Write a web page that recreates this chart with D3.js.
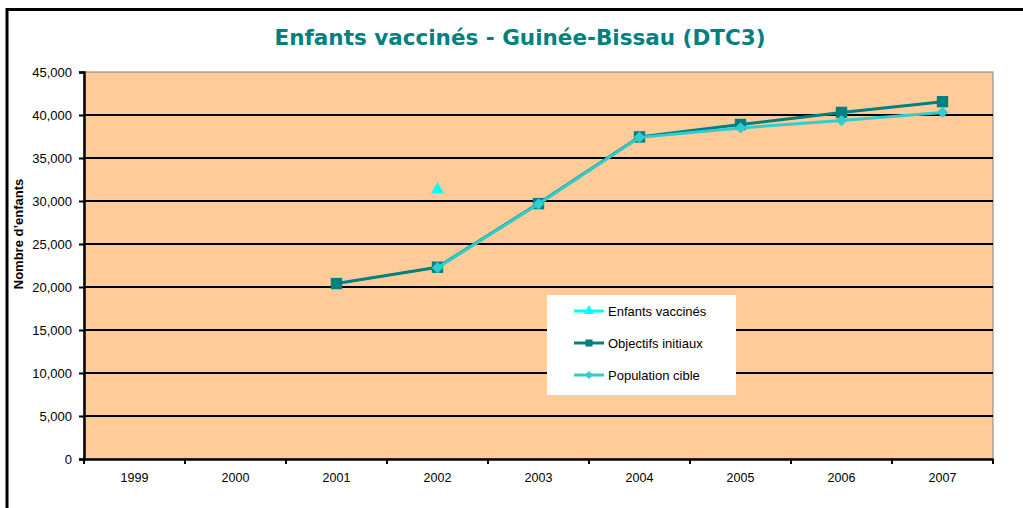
<!DOCTYPE html>
<html>
<head>
<meta charset="utf-8">
<script src="https://cdn.jsdelivr.net/npm/d3@7"></script>
<style>
  body { margin: 0; background: #fff; }
  svg { display: block; }
</style>
</head>
<body>
<div id="chart"></div>
<script>
// chart data
var years = ["1999", "2000", "2001", "2002", "2003", "2004", "2005", "2006", "2007"];
var vaccines = [null, null, null, 31300, null, null, null, null, null];
var objectifs = [null, null, 20400, 22300, 29700, 37450, 38900, 40300, 41550];
var population = [null, null, null, 22250, 29650, 37400, 38500, 39350, 40300];
var yTicks = [0, 5000, 10000, 15000, 20000, 25000, 30000, 35000, 40000, 45000];
var seriesNames = ["Enfants vaccinés", "Objectifs initiaux", "Population cible"];

var svgWidth = 1023, svgHeight = 508;
var margin = {top: 72, right: 30, bottom: 49, left: 84};
var width = svgWidth - margin.left - margin.right;
var height = svgHeight - margin.top - margin.bottom;

var svg = d3.select("#chart").append("svg")
  .attr("width", svgWidth)
  .attr("height", svgHeight);

// outer frame
svg.append("rect")
  .attr("x", 7).attr("y", 9.5)
  .attr("width", 1040).attr("height", 520)
  .attr("fill", "#fff")
  .attr("stroke", "#000")
  .attr("stroke-width", 3);

svg.append("text")
  .attr("x", 520).attr("y", 45)
  .attr("text-anchor", "middle")
  .attr("font-family", "DejaVu Sans, Verdana, sans-serif")
  .attr("font-weight", "bold")
  .attr("font-size", "21.5px")
  .attr("fill", "#008080")
  .text("Enfants vaccinés - Guinée-Bissau (DTC3)");

var chartGroup = svg.append("g")
  .attr("transform", `translate(${margin.left}, ${margin.top})`);

var x = d3.scaleBand().domain(years).range([0, width]);
var y = d3.scaleLinear().domain([0, 45000]).range([height, 0]);

chartGroup.append("rect")
  .attr("width", width).attr("height", height)
  .attr("fill", "#FFCC99")
  .attr("stroke", "#808080")
  .attr("stroke-width", 1);

// gridlines
chartGroup.selectAll(".grid")
  .data(yTicks.filter(d => d > 0 && d < 45000))
  .enter().append("line")
  .attr("x1", 0).attr("x2", width)
  .attr("y1", d => y(d)).attr("y2", d => y(d))
  .attr("stroke", "#000")
  .attr("stroke-width", 2);

// y axis
var yAxis = d3.axisLeft(y).tickValues(yTicks).tickSize(5).tickPadding(7)
  .tickFormat(d3.format(","));
var gy = chartGroup.append("g").call(yAxis);
gy.select(".domain").attr("stroke-width", 2.5);
gy.selectAll(".tick line").attr("stroke-width", 2);
gy.selectAll("text")
  .attr("font-family", "Liberation Sans, Arial, sans-serif")
  .attr("font-size", "13px")
  .attr("fill", "#000");

// x axis
var xAxis = d3.axisBottom(x).tickSize(0).tickPadding(14);
var gx = chartGroup.append("g")
  .attr("transform", `translate(0, ${height})`)
  .call(xAxis);
gx.select(".domain").attr("stroke-width", 2.5);
gx.selectAll("text")
  .attr("font-family", "Liberation Sans, Arial, sans-serif")
  .attr("font-size", "12.5px")
  .attr("fill", "#000");
// category separators
gx.selectAll(".sep")
  .data(years.concat(["end"]))
  .enter().append("line")
  .attr("x1", (d, i) => i * x.bandwidth())
  .attr("x2", (d, i) => i * x.bandwidth())
  .attr("y1", 0).attr("y2", 5)
  .attr("stroke", "#000")
  .attr("stroke-width", 2);

svg.append("text")
  .attr("transform", "translate(23, 234) rotate(-90)")
  .attr("text-anchor", "middle")
  .attr("font-family", "Liberation Sans, Arial, sans-serif")
  .attr("font-weight", "bold")
  .attr("font-size", "13px")
  .text("Nombre d’enfants");

var cx = i => x(years[i]) + x.bandwidth() / 2;

var line = d3.line()
  .defined(d => d != null)
  .x((d, i) => cx(i))
  .y(d => y(d));

var series = [
  {name: seriesNames[1], values: objectifs, color: "#008080", marker: d3.symbolSquare, size: 130, rot: 0},
  {name: seriesNames[2], values: population, color: "#33CCCC", marker: d3.symbolSquare, size: 64, rot: 45},
  {name: seriesNames[0], values: vaccines, color: "#00FFFF", marker: d3.symbolTriangle, size: 75, rot: 0}
];

series.forEach(function(s) {
  chartGroup.append("path")
    .datum(s.values)
    .attr("fill", "none")
    .attr("stroke", s.color)
    .attr("stroke-width", 3)
    .attr("d", line);
  chartGroup.selectAll(null)
    .data(s.values.map((v, i) => ({v: v, i: i})).filter(d => d.v != null))
    .enter().append("path")
    .attr("transform", d => `translate(${cx(d.i)}, ${y(d.v)}) rotate(${s.rot})`)
    .attr("d", d3.symbol().type(s.marker).size(s.size))
    .attr("fill", s.color);
});

// legend
var legend = svg.append("g").attr("transform", "translate(547, 295)");
legend.append("rect")
  .attr("width", 189).attr("height", 100)
  .attr("fill", "#fff");
var legendItems = [
  {name: seriesNames[0], color: "#00FFFF", marker: d3.symbolTriangle, size: 45, rot: 0},
  {name: seriesNames[1], color: "#008080", marker: d3.symbolSquare, size: 50, rot: 0},
  {name: seriesNames[2], color: "#33CCCC", marker: d3.symbolSquare, size: 32, rot: 45}
];
legendItems.forEach(function(d, i) {
  var g = legend.append("g").attr("transform", `translate(0, ${16 + i * 32})`);
  g.append("line")
    .attr("x1", 27).attr("x2", 57)
    .attr("stroke", d.color).attr("stroke-width", 3);
  g.append("path")
    .attr("transform", `translate(42, 0) rotate(${d.rot})`)
    .attr("d", d3.symbol().type(d.marker).size(d.size))
    .attr("fill", d.color);
  g.append("text")
    .attr("x", 61).attr("y", 4.5)
    .attr("font-family", "Liberation Sans, Arial, sans-serif")
    .attr("font-size", "13px")
    .attr("fill", "#000")
    .text(d.name);
});
</script>
</body>
</html>
